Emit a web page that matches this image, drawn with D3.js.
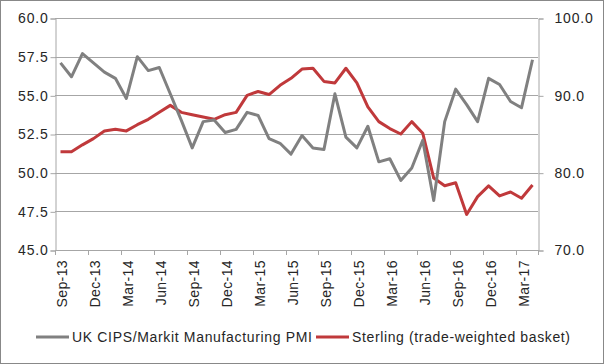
<!DOCTYPE html>
<html>
<head>
<meta charset="utf-8">
<style>
    body { margin: 0; background: #fff; }
    svg { display: block; font-family: "Liberation Sans", Arial, sans-serif; }
    .grid line { stroke: #a6a6a6; stroke-width: 1; }
    .axis text { font-size: 14px; fill: #262626; letter-spacing: 0.8px; }
    .axis .domain, .axis line { stroke: #a6a6a6; }
    .xaxis text { font-size: 14px; fill: #262626; letter-spacing: 0.4px; }
    .legend text { font-size: 14px; fill: #262626; }
</style>
</head>
<body>
<svg width="604" height="364"></svg>
<script src="https://d3js.org/d3.v7.min.js"></script>
<script>
    // monthly, Sep-13 .. Apr-17
    let months = ["Sep-13","Oct-13","Nov-13","Dec-13","Jan-14","Feb-14","Mar-14","Apr-14","May-14","Jun-14",
        "Jul-14","Aug-14","Sep-14","Oct-14","Nov-14","Dec-14","Jan-15","Feb-15","Mar-15","Apr-15",
        "May-15","Jun-15","Jul-15","Aug-15","Sep-15","Oct-15","Nov-15","Dec-15","Jan-16","Feb-16",
        "Mar-16","Apr-16","May-16","Jun-16","Jul-16","Aug-16","Sep-16","Oct-16","Nov-16","Dec-16",
        "Jan-17","Feb-17","Mar-17","Apr-17"]

    let pmi = [57.1, 56.2, 57.7, 57.1, 56.5, 56.1, 54.8, 57.5, 56.6, 56.8,
        55.1, 53.4, 51.6, 53.3, 53.4, 52.6, 52.8, 53.9, 53.7, 52.2,
        51.9, 51.2, 52.4, 51.6, 51.5, 55.1, 52.3, 51.6, 53.0, 50.7,
        50.9, 49.5, 50.3, 52.1, 48.2, 53.3, 55.4, 54.4, 53.3, 56.1,
        55.7, 54.6, 54.2, 57.3]

    let sterling = [82.7, 82.7, 83.6, 84.4, 85.4, 85.6, 85.4, 86.2, 86.9, 87.8,
        88.7, 87.8, 87.5, 87.2, 86.9, 87.5, 87.8, 90.0, 90.5, 90.1,
        91.3, 92.2, 93.4, 93.5, 91.8, 91.6, 93.5, 91.6, 88.5, 86.6,
        85.7, 85.0, 86.6, 85.1, 79.3, 78.3, 78.7, 74.6, 76.9, 78.3,
        77.0, 77.5, 76.7, 78.4]

    let leftTicks = [45, 47.5, 50, 52.5, 55, 57.5, 60]
    let rightTicks = [70, 80, 90, 100]

    let margin = { top: 18, right: 66, bottom: 114, left: 55 }
    let width = 604, height = 364
    let svg = d3.select("svg")

    // outer frame
    svg.append("rect")
        .attr("x", 0.5).attr("y", 0.5)
        .attr("width", width - 1).attr("height", height - 1)
        .attr("fill", "none").attr("stroke", "#888")

    let x = d3.scaleBand()
        .domain(months)
        .range([margin.left, width - margin.right])

    let yL = d3.scaleLinear().domain([45, 60]).range([height - margin.bottom, margin.top])
    let yR = d3.scaleLinear().domain([70, 100]).range([height - margin.bottom, margin.top])

    // gridlines
    svg.append("g").attr("class", "grid")
        .selectAll("line")
        .data(leftTicks)
        .join("line")
        .attr("x1", margin.left).attr("x2", width - margin.right)
        .attr("y1", d => Math.round(yL(d)) + 0.5)
        .attr("y2", d => Math.round(yL(d)) + 0.5)

    // left axis
    svg.append("g")
        .attr("class", "axis")
        .attr("transform", `translate(${margin.left + 0.5},0.5)`)
        .call(d3.axisLeft(yL).tickValues(leftTicks).tickSize(5).tickPadding(2).tickFormat(d3.format(".1f")))

    // right axis
    svg.append("g")
        .attr("class", "axis")
        .attr("transform", `translate(${width - margin.right + 0.5},0.5)`)
        .call(d3.axisRight(yR).tickValues(rightTicks).tickSize(5).tickPadding(11).tickFormat(d3.format(".1f")))

    // x axis: ticks between every 3rd category, labels on the first month of each quarter
    let xg = svg.append("g").attr("class", "axis xaxis")
    let quarter = months.filter((m, i) => i % 3 == 0)
    xg.append("line")
        .attr("x1", margin.left).attr("x2", width - margin.right)
        .attr("y1", yL(45) + 0.5).attr("y2", yL(45) + 0.5)
        .attr("stroke", "#a6a6a6")
    xg.selectAll(".tk")
        .data(quarter.concat(["end"]))
        .join("line")
        .attr("class", "tk")
        .attr("x1", d => Math.round(d == "end" ? x.range()[1] : x(d)) + 0.5)
        .attr("x2", d => Math.round(d == "end" ? x.range()[1] : x(d)) + 0.5)
        .attr("y1", yL(45)).attr("y2", yL(45) + 5)
    xg.selectAll("text")
        .data(quarter)
        .join("text")
        .attr("transform", d => `translate(${x(d) + x.bandwidth() / 2 + 7},${yL(45) + 10}) rotate(-90)`)
        .attr("text-anchor", "end")
        .text(d => d)

    let lineL = d3.line()
        .x((d, i) => x(months[i]) + x.bandwidth() / 2)
        .y(d => yL(d))
    let lineR = d3.line()
        .x((d, i) => x(months[i]) + x.bandwidth() / 2)
        .y(d => yR(d))

    svg.append("path")
        .datum(sterling)
        .attr("d", lineR)
        .attr("fill", "none")
        .attr("stroke", "#c0393b")
        .attr("stroke-width", 3)
        .attr("stroke-linejoin", "round")

    svg.append("path")
        .datum(pmi)
        .attr("d", lineL)
        .attr("fill", "none")
        .attr("stroke", "#808080")
        .attr("stroke-width", 3)
        .attr("stroke-linejoin", "round")

    // legend
    let legend = svg.append("g").attr("class", "legend")
    let items = [
        { name: "UK CIPS/Markit Manufacturing PMI", color: "#808080", x: 36, w: 240 },
        { name: "Sterling (trade-weighted basket)", color: "#c0393b", x: 316, w: 218 }
    ]
    items.forEach(it => {
        legend.append("line")
            .attr("x1", it.x).attr("x2", it.x + 33)
            .attr("y1", 337).attr("y2", 337)
            .attr("stroke", it.color).attr("stroke-width", 3)
        legend.append("text")
            .attr("x", it.x + 36).attr("y", 342)
            .attr("textLength", it.w)
            .attr("lengthAdjust", "spacing")
            .text(it.name)
    })
</script>
</body>
</html>
